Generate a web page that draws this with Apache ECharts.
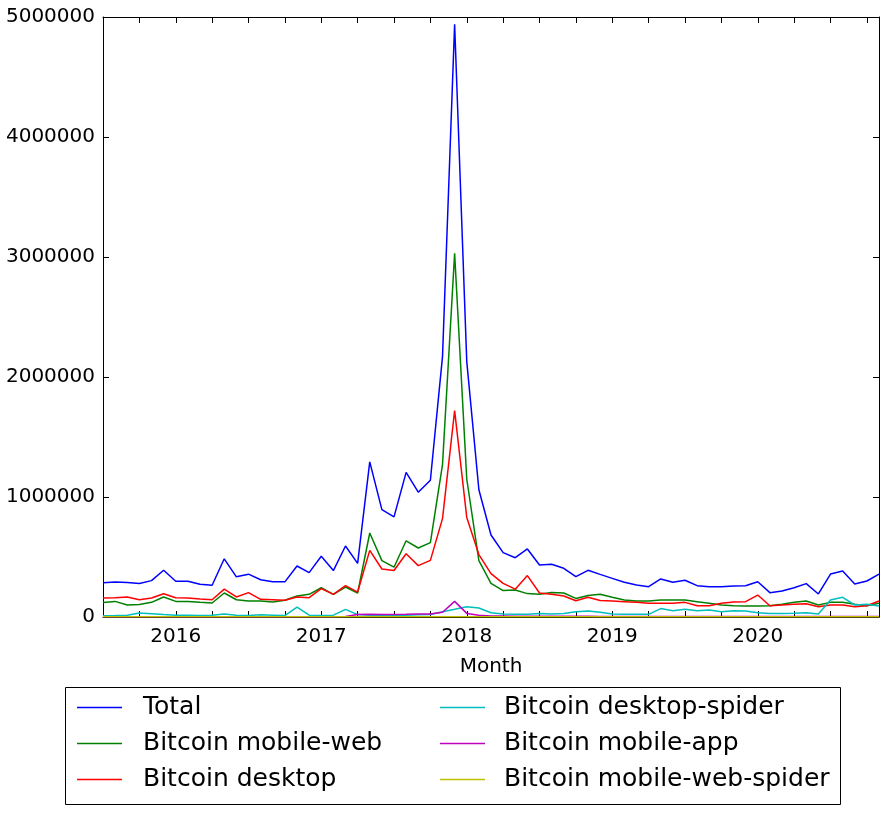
<!DOCTYPE html>
<html>
<head>
<meta charset="utf-8">
<script src="https://cdn.jsdelivr.net/npm/echarts@6/dist/echarts.min.js"></script>
<style>
html,body{margin:0;padding:0;background:#fff;}
#chart{width:890px;height:818px;}
</style>
</head>
<body>
<div id="chart"></div>
<script>
// Months 2015-07 .. 2020-11
const months = [];
for (let y = 2015; y <= 2020; y++) {
  for (let m = 1; m <= 12; m++) {
    if (y === 2015 && m < 7) continue;
    if (y === 2020 && m > 11) continue;
    months.push(y + '-' + (m < 10 ? '0' + m : '' + m));
  }
}

const total = [
  285000, 292000, 287000, 280000, 303000, 390000, 298000, 298000, 273000, 265000,
  485000, 335000, 357000, 310000, 293000, 293000, 425000, 370000, 506000, 387000,
  592000, 447000, 1293000, 895000, 834000, 1205000, 1040000, 1140000, 2170000, 4940000,
  2130000, 1060000, 683000, 536000, 494000, 567000, 433000, 439000, 406000, 336000,
  389000, 355000, 322000, 289000, 267000, 253000, 317000, 289000, 306000, 261000,
  253000, 253000, 258000, 261000, 294000, 203000, 217000, 244000, 278000, 192000,
  358000, 383000, 275000, 300000, 358000
];
const mobileWeb = [
  120000, 130000, 100000, 105000, 122000, 167000, 130000, 130000, 122000, 117000,
  200000, 144000, 133000, 133000, 125000, 139000, 175000, 189000, 244000, 189000,
  250000, 200000, 700000, 470000, 415000, 635000, 575000, 620000, 1270000, 3030000,
  1150000, 470000, 280000, 220000, 225000, 195000, 190000, 205000, 200000, 155000,
  180000, 190000, 164000, 142000, 133000, 133000, 142000, 142000, 142000, 128000,
  114000, 100000, 94000, 92000, 92000, 94000, 106000, 122000, 133000, 100000,
  122000, 122000, 106000, 94000, 114000
];
const desktop = [
  158000, 161000, 167000, 144000, 158000, 194000, 161000, 158000, 150000, 144000,
  232000, 167000, 203000, 147000, 144000, 139000, 167000, 161000, 236000, 189000,
  262000, 208000, 555000, 400000, 388000, 527000, 428000, 472000, 820000, 1720000,
  830000, 520000, 362000, 280000, 232000, 345000, 200000, 190000, 175000, 136000,
  165000, 137000, 133000, 128000, 122000, 114000, 114000, 114000, 122000, 94000,
  94000, 114000, 125000, 128000, 183000, 94000, 100000, 106000, 111000, 86000,
  100000, 100000, 86000, 94000, 133000
];
const desktopSpider = [
  10000, 12000, 15000, 33000, 28000, 20000, 15000, 15000, 12000, 15000,
  25000, 15000, 12000, 18000, 15000, 12000, 83000, 15000, 12000, 15000,
  64000, 20000, 15000, 12000, 12000, 15000, 18000, 20000, 44000, 64000,
  86000, 75000, 36000, 25000, 22000, 22000, 30000, 25000, 30000, 44000,
  50000, 40000, 25000, 22000, 22000, 22000, 70000, 53000, 64000, 53000,
  58000, 44000, 53000, 50000, 36000, 30000, 30000, 32000, 36000, 25000,
  142000, 164000, 100000, 106000, 92000
];
const mobileApp = [
  3000, 3000, 3000, 3000, 3000, 3000, 3000, 3000, 3000, 3000,
  3000, 3000, 3000, 3000, 3000, 3000, 3000, 3000, 3000, 3000,
  5000, 20000, 22000, 20000, 20000, 22000, 25000, 25000, 40000, 130000,
  30000, 15000, 8000, 8000, 7000, 7000, 7000, 6000, 6000, 6000,
  6000, 5000, 5000, 5000, 5000, 5000, 5000, 5000, 5000, 5000,
  5000, 5000, 5000, 5000, 5000, 5000, 5000, 5000, 5000, 5000,
  5000, 5000, 5000, 5000, 5000
];
const mobileWebSpider = [
  2000, 2000, 2000, 2000, 2000, 2000, 2000, 2000, 2000, 2000,
  2000, 2000, 2000, 2000, 2000, 2000, 2000, 2000, 2000, 2000,
  2000, 2000, 2000, 2000, 2000, 2000, 2000, 2000, 2000, 2000,
  2000, 2000, 2000, 2000, 2000, 2000, 2000, 2000, 2000, 2000,
  2000, 2000, 2000, 2000, 2000, 2000, 2000, 2000, 2000, 2000,
  2000, 2000, 2000, 2000, 2000, 2000, 2000, 2000, 2000, 2000,
  2000, 2000, 2000, 2000, 2000
];

const seriesNames = ['Total', 'Bitcoin mobile-web', 'Bitcoin desktop',
  'Bitcoin desktop-spider', 'Bitcoin mobile-app', 'Bitcoin mobile-web-spider'];
const seriesData = [total, mobileWeb, desktop, desktopSpider, mobileApp, mobileWebSpider];
const colors = ['#0000ff', '#008000', '#ff0000', '#00bfbf', '#bf00bf', '#bfbf00'];

const FONT = 'DejaVu Sans';
const chart = echarts.init(document.getElementById('chart'), null, {renderer: 'canvas'});

const tickEvery3 = (idx) => idx % 3 === 0;
const isJan = (idx, val) => val.slice(5) === '01';

const xBase = {
  type: 'category',
  data: months,
  boundaryGap: false,
  axisLine: {show: true, onZero: false, lineStyle: {color: '#000', width: 1}},
  axisTick: {show: true, inside: true, length: 6, interval: tickEvery3, lineStyle: {color: '#000'}},
  splitLine: {show: false}
};
const yBase = {
  type: 'value',
  min: 0, max: 5000000, interval: 1000000,
  axisLine: {show: true, lineStyle: {color: '#000', width: 1}},
  axisTick: {show: true, inside: true, length: 6, lineStyle: {color: '#000'}},
  splitLine: {show: false}
};

chart.setOption({
  animation: false,
  backgroundColor: '#fff',
  color: colors,
  textStyle: {fontFamily: FONT},
  grid: {left: 103, right: 11, top: 17, bottom: 201, containLabel: false},
  xAxis: [
    Object.assign({}, xBase, {
      position: 'bottom',
      name: 'Month', nameLocation: 'middle', nameGap: 40,
      nameTextStyle: {fontFamily: FONT, fontSize: 20, color: '#000'},
      axisLabel: {show: true, interval: isJan, margin: 10, color: '#000', fontFamily: FONT, fontSize: 20,
        formatter: (v) => v.slice(0, 4)}
    }),
    Object.assign({}, xBase, {position: 'top', axisLabel: {show: false}})
  ],
  yAxis: [
    Object.assign({}, yBase, {
      position: 'left',
      axisLabel: {show: true, margin: 8, color: '#000', fontFamily: FONT, fontSize: 20,
        formatter: (v) => String(v)}
    }),
    Object.assign({}, yBase, {position: 'right', axisLabel: {show: false}})
  ],
  legend: [
    {
      orient: 'vertical', left: 77, top: 695, padding: 0,
      data: seriesNames.slice(0, 3),
      icon: 'rect', itemWidth: 45, itemHeight: 1.5, itemGap: 11,
      textStyle: {fontFamily: FONT, fontSize: 25, color: '#000', lineHeight: 25, padding: [0, 0, 0, 16]}
    },
    {
      orient: 'vertical', left: 440, top: 695, padding: 0,
      data: seriesNames.slice(3),
      icon: 'rect', itemWidth: 45, itemHeight: 1.5, itemGap: 11,
      textStyle: {fontFamily: FONT, fontSize: 25, color: '#000', lineHeight: 25, padding: [0, 0, 0, 14]}
    }
  ],
  graphic: [{
    type: 'rect', left: 63, top: 685, silent: true,
    shape: {width: 775, height: 117},
    style: {fill: 'none', stroke: '#000', lineWidth: 1}
  }],
  series: seriesNames.map((name, k) => ({
    name: name,
    type: 'line',
    data: seriesData[k],
    showSymbol: false,
    symbol: 'none',
    lineStyle: {width: 1.5, color: colors[k]},
    itemStyle: {color: colors[k]},
    z: 2 + k
  }))
});
</script>
</body>
</html>
